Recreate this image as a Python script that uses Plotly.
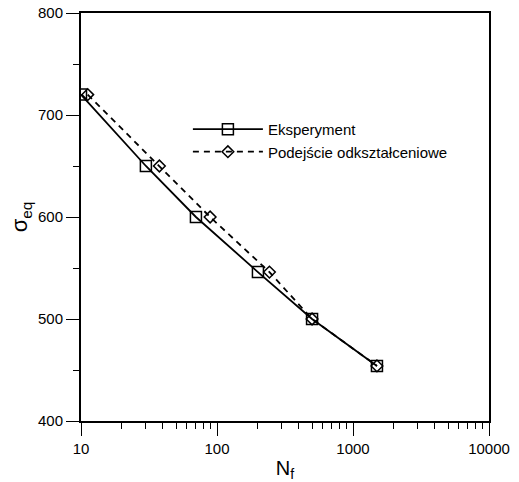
import plotly.graph_objects as go

exp_n = [10, 30, 70, 200, 500, 1500]
exp_s = [720, 650, 600, 546, 500, 454]
pod_n = [11.2, 37.7, 89, 243, 500, 1500]
pod_s = [720, 650, 600, 546, 500, 454]
x_ticks = [10, 100, 1000, 10000]
x_minor = [m * d for d in (10, 100, 1000) for m in range(2, 10)]
y_ticks = [400, 500, 600, 700, 800]
y_minor = [450, 550, 650, 750]

font = "Liberation Sans, Arial, sans-serif"

fig = go.Figure()
fig.add_trace(go.Scatter(
    x=exp_n, y=exp_s, mode="lines+markers", name="Eksperyment",
    line=dict(color="black", width=1.8),
    marker=dict(symbol="square-open", size=11, color="black", line=dict(width=1.5)),
))
fig.add_trace(go.Scatter(
    x=pod_n, y=pod_s, mode="lines+markers", name="Podejście odkształceniowe",
    line=dict(color="black", width=1.8, dash="6px,5px"),
    marker=dict(symbol="diamond-open", size=9, color="black", line=dict(width=1.5)),
))

fig.update_layout(
    width=519, height=482,
    margin=dict(l=81, r=30, t=13, b=61),
    paper_bgcolor="white", plot_bgcolor="white",
    font=dict(family=font, size=15, color="black"),
    showlegend=True,
    legend=dict(x=0.262, y=0.755, xanchor="left", yanchor="top",
                bgcolor="rgba(0,0,0,0)", font=dict(size=15), itemwidth=70,
                tracegroupgap=0),
    xaxis=dict(
        type="log", range=[1, 4], tickvals=x_ticks, ticktext=[str(v) for v in x_ticks],
        showgrid=False, zeroline=False, automargin=False, ticklabeloverflow="allow",
        showline=True, linecolor="black", linewidth=2, mirror=True,
        ticks="outside", ticklen=13, tickwidth=1.3, tickcolor="black",
        minor=dict(ticks="outside", ticklen=6, tickwidth=1.3, tickcolor="black",
                   tickmode="array", tickvals=x_minor, showgrid=False),
        title=dict(text="N<sub>f</sub>", font=dict(size=20), standoff=6),
        tickfont=dict(size=15),
    ),
    yaxis=dict(
        range=[400, 800], tickvals=y_ticks,
        showgrid=False, zeroline=False, automargin=False, ticklabeloverflow="allow",
        showline=True, linecolor="black", linewidth=2, mirror=True,
        ticks="outside", ticklen=13, tickwidth=1.3, tickcolor="black",
        minor=dict(ticks="outside", ticklen=6, tickwidth=1.3, tickcolor="black",
                   tickmode="array", tickvals=y_minor, showgrid=False),
        title=dict(text="σ<sub>eq</sub>", font=dict(size=22), standoff=4),
        tickfont=dict(size=15),
    ),
)

fig.write_html("out.html", config={"displayModeBar": False},
               post_script="document.body.style.margin='0px';")
